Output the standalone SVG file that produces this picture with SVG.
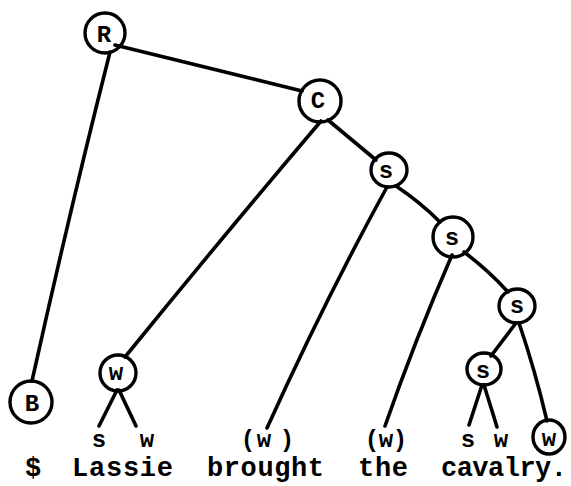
<svg xmlns="http://www.w3.org/2000/svg" width="571" height="486" viewBox="0 0 571 486">
<style>
.bg{fill:#fff}
.edge{fill:none;stroke:#000;stroke-width:3.6;stroke-linecap:round;stroke-linejoin:round}
.ring{fill:none;stroke:#000;stroke-width:3.4}
.nt{font-family:"Liberation Mono","Courier New",monospace;font-size:24px;font-weight:bold;fill:#000;text-anchor:middle;dominant-baseline:central}
.lb{font-family:"Liberation Mono","Courier New",monospace;font-size:24px;font-weight:bold;fill:#000;text-anchor:middle}
.wd{font-family:"Liberation Mono","Courier New",monospace;font-size:27px;font-weight:bold;fill:#000}
</style>
<rect class="bg" width="571" height="486"/>
<g id="connectors">
<path class="edge" d="M110,52 Q70,210 32,381"/>
<path class="edge" d="M115,45 L302,91"/>
<path class="edge" d="M321,121 Q220,240 125,357"/>
<path class="edge" d="M328,120 L376,160"/>
<path class="edge" d="M387,187 Q325,300 267,428"/>
<path class="edge" d="M396,186 Q420,202 440,222"/>
<path class="edge" d="M452,255 Q415,340 385,426"/>
<path class="edge" d="M464,252 Q488,270 508,292"/>
<path class="edge" d="M516,323 L491,356"/>
<path class="edge" d="M519,323 Q535,370 547,421"/>
<path class="edge" d="M482,385 L469,425"/>
<path class="edge" d="M484,385 L497,427"/>
<path class="edge" d="M117,390 L99,426"/>
<path class="edge" d="M119,390 L136,426"/>
</g>
<g id="node-R"><ellipse class="ring" cx="105" cy="33" rx="20" ry="20"/><text class="nt" x="104" y="35">R</text></g>
<g id="node-C"><ellipse class="ring" cx="320" cy="101" rx="21" ry="21"/><text class="nt" x="318" y="101">C</text></g>
<g id="node-s1"><ellipse class="ring" cx="389" cy="170" rx="18" ry="17"/><text class="nt" x="386" y="171">s</text></g>
<g id="node-s2"><ellipse class="ring" cx="453" cy="237" rx="20" ry="20"/><text class="nt" x="452" y="238">s</text></g>
<g id="node-s3"><ellipse class="ring" cx="517" cy="306" rx="18" ry="17"/><text class="nt" x="517" y="306">s</text></g>
<g id="node-s4"><ellipse class="ring" cx="484" cy="369" rx="17" ry="16"/><text class="nt" x="483" y="371">s</text></g>
<g id="node-w1"><ellipse class="ring" cx="118" cy="373" rx="18" ry="18"/><text class="nt" x="116" y="373">w</text></g>
<g id="node-B"><ellipse class="ring" cx="31" cy="402" rx="21" ry="21"/><text class="nt" x="32" y="404">B</text></g>
<g id="node-w2"><ellipse class="ring" cx="549" cy="437" rx="16" ry="17"/><text class="nt" x="549" y="439">w</text></g>
<g id="labels">
<text class="lb" x="99" y="447">s</text>
<text class="lb" x="147" y="447">w</text>
<text class="lb" x="248" y="447">(</text>
<text class="lb" x="264" y="447">w</text>
<text class="lb" x="287" y="447">)</text>
<text class="lb" x="372" y="447">(</text>
<text class="lb" x="386" y="447">w</text>
<text class="lb" x="400" y="447">)</text>
<text class="lb" x="468" y="447">s</text>
<text class="lb" x="501" y="447">w</text>
</g>
<g id="sentence">
<text class="wd" x="33" y="476" text-anchor="middle">$</text>
<text class="wd" x="72" y="476" textLength="101">Lassie</text>
<text class="wd" x="207" y="476" textLength="117">brought</text>
<text class="wd" x="358" y="476" textLength="50">the</text>
<text class="wd" x="441" y="476" textLength="126">cavalry.</text>
</g>
</svg>
